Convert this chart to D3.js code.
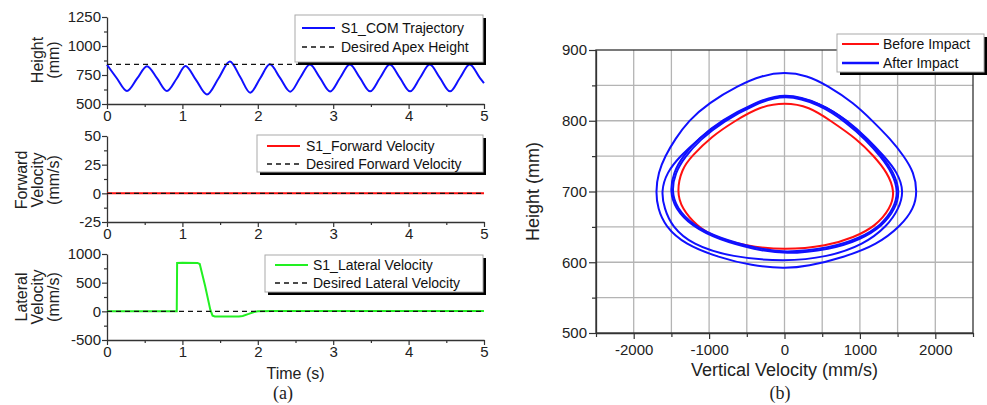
<!DOCTYPE html>
<html><head><meta charset="utf-8">
<script src="https://cdn.jsdelivr.net/npm/d3@7"></script>
<style>body{margin:0;background:#fff}svg{display:block}</style>
</head><body><svg id="c" width="987" height="405"></svg>
<script>
// ---------------- DATA ----------------
const timeTicks = [0, 1, 2, 3, 4, 5];
const timeMinor = [0.5, 1.5, 2.5, 3.5, 4.5];

const comTime   = [0, 0.13, 0.265, 0.40, 0.53, 0.665, 0.795, 0.925, 1.04, 1.18, 1.325, 1.48, 1.63, 1.765, 1.90, 2.03, 2.16, 2.295, 2.43, 2.56, 2.69, 2.825, 2.96, 3.09, 3.22, 3.355, 3.49, 3.62, 3.75, 3.885, 4.02, 4.15, 4.28, 4.415, 4.55, 4.68, 4.81, 4.945, 5.0];
const comHeight = [838, 722, 612, 720, 826, 720, 612, 720, 828, 708, 582, 722, 866, 735, 598, 720, 842, 725, 606, 724, 840, 725, 608, 724, 840, 725, 609, 724, 840, 725, 609, 724, 840, 725, 609, 724, 840, 725, 680];
const desiredApexHeight = 842;
const heightTicks = [500, 750, 1000, 1250];
const heightMinor = [625, 875, 1125];

const fwdTime = [0, 5];
const fwdVel  = [0, 0];
const desiredFwdVel = 0;
const fwdTicks = [-25, 0, 25, 50];
const fwdMinor = [-12.5, 12.5, 37.5];

const latTime = [0, 0.925, 0.93, 1.0, 1.2, 1.23, 1.30, 1.37, 1.40, 1.43, 1.75, 1.80, 1.88, 1.95, 2.0, 2.2, 5.0];
const latVel  = [0, 0, 845, 848, 845, 825, 450, 30, -75, -90, -90, -80, -45, -12, 0, 5, 5];
const desiredLatVel = 0;
const latTicks = [-500, 0, 500, 1000];
const latMinor = [-250, 250, 750];

// phase portrait: [vertical velocity (mm/s), height (mm)]
const beforeImpact = [[0,826],[-330,820],[-655,800],[-965,778],[-1230,750],[-1363,732],[-1429,700],[-1363,676],[-1164,651],[-920,635],[-522,623],[0,617],[566,623],[920,635],[1208,651],[1407,676],[1465,700],[1363,727],[1186,750],[965,774],[611,800],[330,820]];
const afterOuter   = [[0,869],[-300,864],[-611,850],[-1009,825],[-1274,800],[-1451,774],[-1584,750],[-1673,727],[-1708,700],[-1681,676],[-1584,651],[-1319,625],[-876,607],[-434,595],[0,591],[301,594],[788,607],[1230,625],[1540,651],[1717,676],[1761,700],[1717,727],[1584,750],[1407,774],[1164,800],[920,825],[566,850],[300,864]];
const afterMiddle  = [[0,839],[-389,825],[-832,800],[-1142,774],[-1385,750],[-1562,727],[-1637,700],[-1593,676],[-1496,651],[-1230,625],[-699,607],[0,601],[566,607],[1053,625],[1363,651],[1518,676],[1584,700],[1500,727],[1320,750],[1110,774],[840,800],[480,825]];
const afterInnerA  = [[0,840],[-389,826],[-832,801],[-1142,775],[-1341,751],[-1474,727],[-1518,700],[-1451,676],[-1230,651],[-876,632],[-389,618],[0,611],[611,618],[1009,632],[1297,651],[1473,676],[1531,700],[1451,727],[1297,750],[1097,774],[832,800],[478,825]];
const afterInnerB  = [[0,838],[-380,824],[-815,799],[-1122,773],[-1320,749],[-1452,726],[-1497,700],[-1432,677],[-1214,652],[-866,634],[-385,620],[0,613],[605,620],[998,634],[1282,652],[1454,677],[1510,700],[1431,726],[1278,749],[1080,773],[815,798],[470,823]];
const velTicks  = [-2000, -1000, 0, 1000, 2000];
const velMinor  = [-2500, -1500, -500, 500, 1500, 2500];
const velGrid   = [-2000, -1500, -1000, -500, 0, 500, 1000, 1500, 2000];
const phTicks   = [500, 600, 700, 800, 900];
const phMinor   = [550, 650, 750, 850];
const phGrid    = [550, 600, 650, 700, 750, 800, 850];

// ---------------- DRAWING ----------------
const FONT = '"Liberation Sans", Arial, Helvetica, sans-serif';
const SERIF = '"Liberation Serif", "Times New Roman", serif';
const AX = '#333';
const BLUE = '#1010ff', RED = '#ff1010', GREEN = '#22f022';
const fmt = d => String(d);
const svg = d3.select('#c');

function style(g, fs) {
  g.select('.domain').attr('stroke', AX).attr('stroke-width', 1.3);
  g.selectAll('.tick line').attr('stroke', AX).attr('stroke-width', 1.2);
  g.selectAll('.tick text').attr('fill', '#222').style('font-size', fs + 'px').style('font-family', FONT);
}

function legend(bx, by, bw, bh, lx1, lx2, tx, items) {
  const g = svg.append('g');
  g.append('rect').attr('x', bx + 3).attr('y', by + 3).attr('width', bw).attr('height', bh).attr('fill', '#000');
  g.append('rect').attr('x', bx).attr('y', by).attr('width', bw).attr('height', bh).attr('fill', '#fff').attr('stroke', '#aaa').attr('stroke-width', 1);
  items.forEach(it => {
    g.append('line').attr('x1', lx1).attr('x2', lx2).attr('y1', it.y).attr('y2', it.y)
      .attr('stroke', it.color).attr('stroke-width', it.w).attr('stroke-dasharray', it.dash || null);
    g.append('text').attr('x', tx).attr('y', it.y).attr('dy', '0.36em').text(it.label)
      .style('font-family', FONT).style('font-size', '14px').attr('fill', '#111');
  });
}

const xL = d3.scaleLinear([0, 5], [107, 484]);

function leftPanel(y, yTicks, yMinor, times, vals, color, curve, desired, titleLines, titleX, titleY) {
  const [y0] = y.range();
  const gy = svg.append('g').attr('transform', 'translate(107,0)');
  gy.call(d3.axisLeft(y).tickValues(yTicks).tickFormat(fmt).tickSize(5).tickPadding(1).tickSizeOuter(0));
  style(gy, 15);
  const gym = svg.append('g').attr('transform', 'translate(107,0)');
  gym.call(d3.axisLeft(y).tickValues(yMinor).tickSize(3).tickFormat('').tickSizeOuter(0));
  style(gym, 15); gym.select('.domain').remove();

  const gx = svg.append('g').attr('transform', `translate(0,${y0})`);
  gx.call(d3.axisBottom(xL).tickValues(timeTicks).tickFormat(fmt).tickSize(5).tickPadding(1).tickSizeOuter(0));
  style(gx, 15);
  const gxm = svg.append('g').attr('transform', `translate(0,${y0})`);
  gxm.call(d3.axisBottom(xL).tickValues(timeMinor).tickSize(3).tickFormat('').tickSizeOuter(0));
  style(gxm, 15); gxm.select('.domain').remove();

  const pts = times.map((t, i) => [t, vals[i]]);
  const line = d3.line().x(d => xL(d[0])).y(d => y(d[1])).curve(curve);
  svg.append('path').attr('d', line(pts))
    .attr('fill', 'none').attr('stroke', color).attr('stroke-width', 2);
  svg.append('line').attr('x1', xL(0)).attr('x2', xL(5)).attr('y1', y(desired)).attr('y2', y(desired))
    .attr('stroke', '#111').attr('stroke-width', 1.4).attr('stroke-dasharray', '5,4');

  const t = svg.append('text').attr('transform', `translate(${titleX},${titleY}) rotate(-90)`)
    .attr('text-anchor', 'middle').style('font-family', FONT).style('font-size', '16px').attr('fill', '#222');
  const n = titleLines.length;
  titleLines.forEach((s, i) => {
    t.append('tspan').attr('x', 0).attr('y', (i - (n - 1) / 2) * 16).attr('dy', '0.36em').text(s);
  });
}

const yTop = d3.scaleLinear([500, 1250], [104, 17]);
const yMid = d3.scaleLinear([-25, 50], [222, 136]);
const yBot = d3.scaleLinear([-500, 1000], [340, 254]);

leftPanel(yTop, heightTicks, heightMinor, comTime, comHeight, BLUE, d3.curveMonotoneX, desiredApexHeight, ['Height', '(mm)'], 45, 60);
leftPanel(yMid, fwdTicks, fwdMinor, fwdTime, fwdVel, RED, d3.curveLinear, desiredFwdVel, ['Forward', 'Velocity', '(mm/s)'], 37, 180);
leftPanel(yBot, latTicks, latMinor, latTime, latVel, GREEN, d3.curveLinear, desiredLatVel, ['Lateral', 'Velocity', '(mm/s)'], 37, 297);

legend(295, 15, 188, 47, 302, 335, 341, [
  { y: 28, color: BLUE, w: 2, label: 'S1_COM Trajectory' },
  { y: 47, color: '#111', w: 1.4, dash: '5,4', label: 'Desired Apex Height' }]);
legend(257, 135, 226, 37, 267, 300, 306, [
  { y: 146, color: RED, w: 2, label: 'S1_Forward Velocity' },
  { y: 164, color: '#111', w: 1.4, dash: '5,4', label: 'Desired Forward Velocity' }]);
legend(265, 255, 218, 37, 275, 308, 313, [
  { y: 265, color: GREEN, w: 2, label: 'S1_Lateral Velocity' },
  { y: 283, color: '#111', w: 1.4, dash: '5,4', label: 'Desired Lateral Velocity' }]);

svg.append('text').attr('x', xL(2.5)).attr('y', 379).attr('text-anchor', 'middle')
  .style('font-family', FONT).style('font-size', '16px').attr('fill', '#222').text('Time (s)');
svg.append('text').attr('x', 283).attr('y', 399).attr('text-anchor', 'middle')
  .style('font-family', SERIF).style('font-size', '18px').attr('fill', '#222').text('(a)');

// ---- right panel ----
const xR = d3.scaleLinear([-2500, 2500], [596, 973]);
const yR = d3.scaleLinear([500, 900], [333, 50]);

svg.append('g').selectAll('line').data(velGrid).join('line')
  .attr('x1', d => xR(d)).attr('x2', d => xR(d)).attr('y1', yR(500)).attr('y2', yR(900))
  .attr('stroke', '#b4b4b4').attr('stroke-width', 1.3);
svg.append('g').selectAll('line').data(phGrid).join('line')
  .attr('x1', xR(-2500)).attr('x2', xR(2500)).attr('y1', d => yR(d)).attr('y2', d => yR(d))
  .attr('stroke', '#b4b4b4').attr('stroke-width', 1.3);

const loop = d3.line().x(d => xR(d[0])).y(d => yR(d[1])).curve(d3.curveBasisClosed);
svg.append('path').attr('d', loop(beforeImpact)).attr('fill', 'none').attr('stroke', RED).attr('stroke-width', 2);
[afterOuter, afterMiddle, afterInnerA, afterInnerB].forEach(L => {
  svg.append('path').attr('d', loop(L)).attr('fill', 'none').attr('stroke', BLUE).attr('stroke-width', 2);
});

svg.append('rect').attr('x', xR(-2500)).attr('y', yR(900)).attr('width', xR(2500) - xR(-2500)).attr('height', yR(500) - yR(900))
  .attr('fill', 'none').attr('stroke', AX).attr('stroke-width', 1.3);

const gRy = svg.append('g').attr('transform', `translate(${xR(-2500)},0)`);
gRy.call(d3.axisLeft(yR).tickValues(phTicks).tickFormat(fmt).tickSize(7).tickPadding(2).tickSizeOuter(0)); style(gRy, 15);
const gRym = svg.append('g').attr('transform', `translate(${xR(-2500)},0)`);
gRym.call(d3.axisLeft(yR).tickValues(phMinor).tickSize(4).tickFormat('').tickSizeOuter(0)); style(gRym, 15); gRym.select('.domain').remove();
const gRx = svg.append('g').attr('transform', `translate(0,${yR(500)})`);
gRx.call(d3.axisBottom(xR).tickValues(velTicks).tickFormat(fmt).tickSize(6).tickPadding(5).tickSizeOuter(0)); style(gRx, 15);
const gRxm = svg.append('g').attr('transform', `translate(0,${yR(500)})`);
gRxm.call(d3.axisBottom(xR).tickValues(velMinor).tickSize(4).tickFormat('').tickSizeOuter(0)); style(gRxm, 15); gRxm.select('.domain').remove();

svg.append('text').attr('x', xR(0)).attr('y', 376).attr('text-anchor', 'middle')
  .style('font-family', FONT).style('font-size', '18px').attr('fill', '#222').text('Vertical Velocity (mm/s)');
svg.append('text').attr('transform', `translate(533,${(yR(500) + yR(900)) / 2}) rotate(-90)`).attr('dy', '0.36em')
  .attr('text-anchor', 'middle').style('font-family', FONT).style('font-size', '18px').attr('fill', '#222').text('Height (mm)');
svg.append('text').attr('x', 780).attr('y', 399).attr('text-anchor', 'middle')
  .style('font-family', SERIF).style('font-size', '18px').attr('fill', '#222').text('(b)');

legend(837, 34, 147, 38, 842, 879, 883, [
  { y: 44, color: RED, w: 2, label: 'Before Impact' },
  { y: 63, color: BLUE, w: 2.5, label: 'After Impact' }]);
</script></body></html>
